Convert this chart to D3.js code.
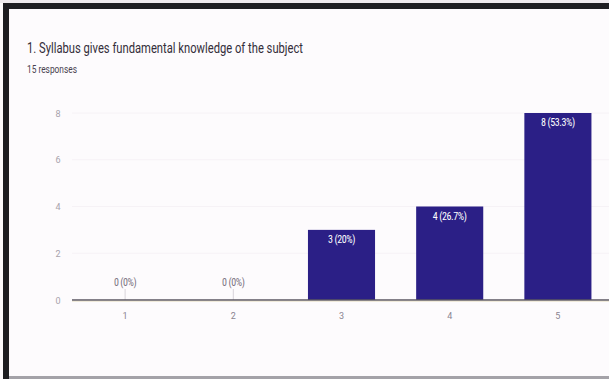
<!DOCTYPE html>
<html><head><meta charset="utf-8">
<script src="https://cdn.jsdelivr.net/npm/d3@7"></script>
<style>html,body{margin:0;padding:0;background:#fdfbfd;}svg{display:block;}</style>
</head><body>
<svg id="c" width="609" height="379"></svg>
<script>
const categories = ["1", "2", "3", "4", "5"];
const counts = [0, 0, 3, 4, 8];
const percentLabels = ["0%", "0%", "20%", "26.7%", "53.3%"];
const yTicks = [0, 2, 4, 6, 8];
const title = "1. Syllabus gives fundamental knowledge of the subject";
const subtitle = "15 responses";

const svg = d3.select("#c");
const W = 609, H = 379;
const font = "Roboto, 'Liberation Sans', sans-serif";

svg.append("rect").attr("width", W).attr("height", H).attr("fill", "#fdfbfd");

// frame
svg.append("rect").attr("x", 0).attr("y", 0).attr("width", W).attr("height", 3).attr("fill", "#eeeaee");
svg.append("rect").attr("x", 3).attr("y", 3).attr("width", W - 3).attr("height", 6).attr("fill", "#1e1e22");
svg.append("rect").attr("x", 3).attr("y", 3).attr("width", 6).attr("height", H - 3).attr("fill", "#1e1e22");
svg.append("rect").attr("x", 9).attr("y", 376).attr("width", W - 9).attr("height", 3).attr("fill", "#a4a2a8");

svg.append("text").attr("x", 27).attr("y", 53)
  .attr("font-family", font).attr("font-size", 15).attr("fill", "#342e3a")
  .attr("textLength", 276).attr("lengthAdjust", "spacingAndGlyphs").text(title);
svg.append("text").attr("x", 27).attr("y", 73)
  .attr("font-family", font).attr("font-size", 10).attr("fill", "#4a4250")
  .attr("textLength", 50).attr("lengthAdjust", "spacingAndGlyphs").text(subtitle);

const x = d3.scaleBand().domain(categories).range([71, 612]).paddingInner(0.38).paddingOuter(0.19);
const y = d3.scaleLinear().domain([0, 8]).range([300, 113]);

// faint grid
svg.append("g").selectAll("line").data(yTicks.slice(1)).join("line")
  .attr("x1", 72).attr("x2", W).attr("y1", d => y(d)).attr("y2", d => y(d))
  .attr("stroke", "#f6f2f6").attr("stroke-width", 1);

// y labels
svg.append("g").selectAll("text").data(yTicks).join("text")
  .attr("x", 58).attr("y", d => y(d) + 3.5).attr("text-anchor", "middle")
  .attr("font-family", font).attr("font-size", 9).attr("fill", "#a8a2ac").text(d => d);

// bars
svg.append("g").selectAll("rect").data(categories).join("rect")
  .attr("x", d => x(d)).attr("width", x.bandwidth())
  .attr("y", (d, i) => y(counts[i])).attr("height", (d, i) => y(0) - y(counts[i]))
  .attr("fill", "#2b1f86");

// small tick marks for zero categories
svg.append("g").selectAll("line").data(categories.filter((d, i) => counts[i] === 0)).join("line")
  .attr("x1", d => x(d) + x.bandwidth() / 2).attr("x2", d => x(d) + x.bandwidth() / 2)
  .attr("y1", 289).attr("y2", 300).attr("stroke", "#d8d4da").attr("stroke-width", 1);

// baseline
svg.append("line").attr("x1", 72).attr("x2", W).attr("y1", y(0)).attr("y2", y(0))
  .attr("stroke", "#5a5660").attr("stroke-width", 1.5);
svg.append("line").attr("x1", 72).attr("x2", W).attr("y1", y(0) + 1.3).attr("y2", y(0) + 1.3)
  .attr("stroke", "#d8c89a").attr("stroke-width", 0.7).attr("opacity", 0.6);

// value labels
svg.append("g").selectAll("text").data(categories).join("text")
  .attr("x", d => x(d) + x.bandwidth() / 2)
  .attr("y", (d, i) => counts[i] === 0 ? 286 : y(counts[i]) + 13)
  .attr("text-anchor", "middle").attr("font-family", font).attr("font-size", 10)
  .attr("fill", (d, i) => counts[i] === 0 ? "#7a7280" : "#ffffff")
  .style("font-stretch", "condensed")
  .attr("letter-spacing", -0.4)
  .text((d, i) => counts[i] + " (" + percentLabels[i] + ")");

// x labels
svg.append("g").selectAll("text").data(categories).join("text")
  .attr("x", d => x(d) + x.bandwidth() / 2).attr("y", 319)
  .attr("text-anchor", "middle").attr("font-family", font).attr("font-size", 9)
  .attr("fill", "#8a8490").text(d => d);
</script>
</body></html>
